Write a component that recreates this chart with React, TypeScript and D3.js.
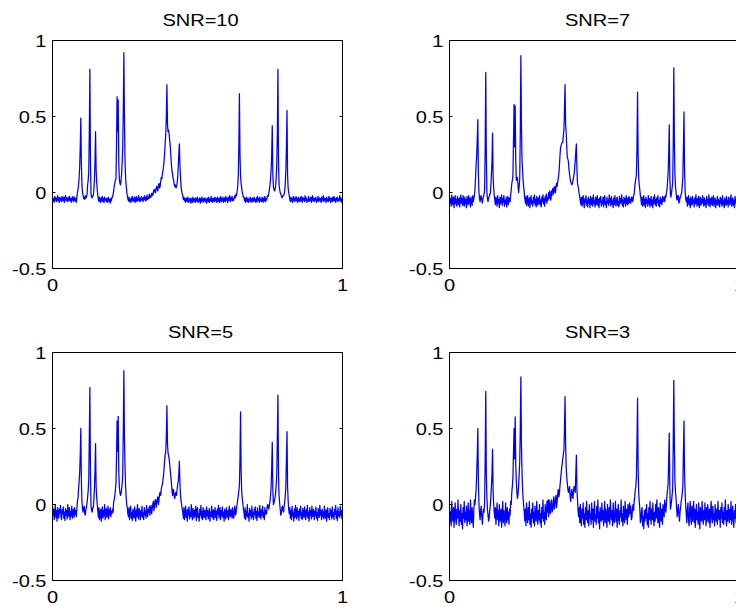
import React from 'react';
import * as d3 from 'd3';

const TITLES = ['SNR=10', 'SNR=7', 'SNR=5', 'SNR=3'];
const Y_TICKS = [-0.5, 0, 0.5, 1];
const Y_TICK_LABELS = ['-0.5', '0', '0.5', '1'];
const X_TICKS = [0, 1];
const X_TICK_LABELS = ['0', '1'];

// 513 samples on [0, 1] per panel
const SNR10 = [
  -0.03,-0.055,-0.04,-0.065,-0.025,-0.05,-0.035,-0.06,-0.045,-0.02,-0.055,-0.035,-0.065,-0.03,-0.05,-0.04,
  -0.06,-0.025,-0.045,-0.055,-0.03,-0.065,-0.04,-0.02,-0.05,-0.035,-0.06,-0.045,-0.03,-0.055,-0.025,-0.05,
  -0.04,-0.065,-0.035,-0.05,-0.025,-0.06,-0.045,-0.03,-0.055,-0.04,-0.065,-0.03,0.0,0.02,0.05,0.1,
  0.17,0.3,0.49,0.18,0.05,0.0,-0.02,-0.04,-0.03,-0.045,-0.02,-0.035,-0.03,-0.015,0.05,0.08,
  0.14,0.4,0.81,0.2,-0.01,-0.03,-0.035,-0.02,-0.02,0.02,0.08,0.2,0.40,0.15,0.07,0.02,
  -0.02,-0.045,-0.06,-0.03,-0.05,-0.065,-0.035,-0.055,-0.025,-0.06,-0.04,-0.065,-0.03,-0.05,-0.045,-0.06,
  -0.035,-0.065,-0.05,-0.03,-0.06,-0.045,-0.07,-0.04,-0.055,-0.03,-0.03,-0.01,0.01,0.04,0.06,0.08,
  0.09,0.3,0.63,0.4,0.61,0.2,0.09,0.06,0.05,0.08,0.12,0.2,0.30,0.55,0.92,0.5,
  0.21,0.1,0.05,0.01,-0.02,-0.04,-0.055,-0.03,-0.06,-0.045,-0.065,-0.035,-0.05,-0.025,-0.06,-0.04,
  -0.055,-0.03,-0.065,-0.045,-0.025,-0.06,-0.04,-0.05,-0.02,-0.055,-0.035,-0.06,-0.045,-0.025,-0.05,-0.035,
  -0.06,-0.03,-0.045,-0.02,-0.055,-0.035,-0.05,-0.015,-0.045,-0.03,-0.04,-0.01,-0.035,-0.02,-0.03,-0.005,
  -0.005,-0.02,0.0,0.015,0.02,0.0,0.0,0.03,0.04,0.02,0.01,0.05,0.06,0.03,0.04,0.07,
  0.10,0.09,0.12,0.14,0.17,0.21,0.26,0.33,0.39,0.5,0.71,0.45,0.40,0.41,0.38,0.34,
  0.30,0.24,0.18,0.14,0.12,0.09,0.08,0.05,0.04,0.05,0.03,0.04,0.06,0.1,0.17,0.25,
  0.32,0.18,0.10,0.04,0.01,-0.01,-0.02,-0.045,-0.03,-0.055,-0.04,-0.065,-0.035,-0.05,-0.06,-0.03,
  -0.065,-0.045,-0.055,-0.035,-0.07,-0.05,-0.04,-0.065,-0.03,-0.055,-0.06,-0.04,-0.065,-0.035,-0.05,-0.06,
  -0.03,-0.065,-0.045,-0.055,-0.035,-0.07,-0.04,-0.06,-0.03,-0.05,-0.065,-0.04,-0.055,-0.035,-0.06,-0.045,
  -0.07,-0.035,-0.05,-0.06,-0.03,-0.065,-0.045,-0.055,-0.025,-0.06,-0.04,-0.065,-0.035,-0.05,-0.06,-0.03,
  -0.055,-0.04,-0.065,-0.03,-0.05,-0.06,-0.035,-0.065,-0.045,-0.025,-0.06,-0.04,-0.055,-0.03,-0.065,-0.045,
  -0.035,-0.06,-0.025,-0.05,-0.04,-0.065,-0.03,-0.055,-0.045,-0.02,-0.06,-0.035,-0.05,-0.025,-0.055,-0.04,
  -0.05,-0.03,-0.02,-0.035,-0.01,-0.02,0.01,0.04,0.11,0.3,0.65,0.25,0.11,0.06,0.03,0.0,
  -0.01,-0.03,-0.03,-0.055,-0.04,-0.065,-0.03,-0.05,-0.06,-0.035,-0.065,-0.045,-0.055,-0.03,-0.06,-0.04,
  -0.065,-0.035,-0.05,-0.06,-0.03,-0.055,-0.045,-0.065,-0.035,-0.06,-0.025,-0.05,-0.04,-0.065,-0.03,-0.055,
  -0.045,-0.06,-0.03,-0.05,-0.065,-0.035,-0.055,-0.025,-0.06,-0.04,-0.05,-0.03,-0.02,-0.025,0.0,0.02,
  0.05,0.09,0.15,0.25,0.44,0.12,0.04,0.02,0.01,0.02,0.05,0.1,0.19,0.4,0.81,0.2,
  0.05,0.02,0.0,-0.01,-0.02,-0.035,-0.03,-0.02,-0.02,-0.01,0.01,0.06,0.15,0.3,0.54,0.12,
  0.03,0.0,-0.02,-0.045,-0.06,-0.03,-0.055,-0.04,-0.065,-0.025,-0.05,-0.035,-0.06,-0.045,-0.025,-0.055,
  -0.04,-0.065,-0.03,-0.05,-0.06,-0.035,-0.055,-0.025,-0.045,-0.065,-0.03,-0.05,-0.04,-0.06,-0.02,-0.05,
  -0.035,-0.065,-0.045,-0.055,-0.025,-0.06,-0.04,-0.05,-0.03,-0.065,-0.045,-0.02,-0.055,-0.035,-0.06,-0.04,
  -0.05,-0.03,-0.065,-0.045,-0.055,-0.025,-0.06,-0.035,-0.05,-0.04,-0.065,-0.03,-0.055,-0.045,-0.02,-0.06,
  -0.035,-0.05,-0.04,-0.065,-0.03,-0.055,-0.045,-0.06,-0.025,-0.05,-0.035,-0.065,-0.04,-0.055,-0.03,-0.06,
  -0.045,-0.025,-0.055,-0.04,-0.065,-0.035,-0.05,-0.03,-0.06,-0.045,-0.055,-0.02,-0.05,-0.035,-0.065,-0.04,
  -0.045,
];

const SNR7 = [
  -0.02,-0.07,-0.04,-0.09,-0.015,-0.06,-0.08,-0.03,-0.10,-0.05,-0.02,-0.075,-0.045,-0.09,-0.025,-0.065,
  -0.08,-0.035,-0.095,-0.05,-0.015,-0.07,-0.04,-0.085,-0.02,-0.06,-0.09,-0.03,-0.075,-0.045,-0.1,-0.025,
  -0.06,-0.08,-0.02,-0.07,-0.04,-0.095,-0.03,-0.065,-0.085,-0.02,-0.06,-0.04,-0.02,0.02,0.10,0.18,
  0.24,0.35,0.48,0.12,0.0,-0.04,-0.06,-0.03,-0.02,-0.05,-0.07,-0.04,-0.03,-0.01,0.02,0.3,
  0.79,0.25,0.0,-0.04,-0.06,-0.035,-0.03,-0.01,-0.01,0.04,0.12,0.2,0.39,0.1,0.03,-0.02,
  -0.05,-0.08,-0.03,-0.06,-0.09,-0.02,-0.07,-0.045,-0.1,-0.03,-0.075,-0.05,-0.015,-0.085,-0.04,-0.065,
  -0.02,-0.09,-0.05,-0.075,-0.03,-0.095,-0.06,-0.025,-0.08,-0.045,-0.035,-0.06,-0.02,0.02,0.06,0.08,
  0.11,0.35,0.58,0.3,0.57,0.2,0.08,0.09,0.10,0.04,0.0,0.04,0.09,0.4,0.90,0.45,
  0.22,0.14,0.08,0.03,0.0,-0.04,-0.07,-0.025,-0.085,-0.05,-0.02,-0.09,-0.06,-0.035,-0.1,-0.045,
  -0.02,-0.075,-0.055,-0.09,-0.03,-0.065,-0.015,-0.08,-0.045,-0.095,-0.025,-0.06,-0.085,-0.035,-0.07,-0.02,
  -0.08,-0.05,-0.095,-0.03,-0.06,-0.015,-0.075,-0.04,-0.09,-0.025,-0.055,-0.01,-0.07,-0.035,-0.05,0.0,
  -0.04,0.01,-0.03,-0.05,0.01,-0.02,0.02,0.03,-0.01,0.02,0.04,0.0,0.03,0.06,0.04,0.07,
  0.09,0.12,0.17,0.24,0.29,0.31,0.32,0.33,0.33,0.38,0.41,0.55,0.71,0.45,0.39,0.3,
  0.23,0.22,0.20,0.15,0.12,0.09,0.07,0.06,0.05,0.06,0.08,0.1,0.12,0.16,0.21,0.27,
  0.32,0.15,0.06,0.04,0.02,-0.01,-0.03,-0.06,-0.08,-0.03,-0.09,-0.05,-0.02,-0.075,-0.1,-0.04,
  -0.065,-0.02,-0.085,-0.05,-0.095,-0.03,-0.07,-0.045,-0.1,-0.025,-0.06,-0.08,-0.035,-0.09,-0.015,-0.07,
  -0.05,-0.095,-0.03,-0.08,-0.06,-0.02,-0.085,-0.045,-0.1,-0.035,-0.065,-0.025,-0.09,-0.055,-0.075,-0.03,
  -0.095,-0.045,-0.02,-0.08,-0.06,-0.1,-0.03,-0.07,-0.05,-0.085,-0.015,-0.065,-0.04,-0.09,-0.025,-0.075,
  -0.055,-0.1,-0.035,-0.08,-0.02,-0.07,-0.09,-0.045,-0.03,-0.085,-0.06,-0.095,-0.025,-0.075,-0.04,-0.065,
  -0.015,-0.085,-0.05,-0.095,-0.03,-0.07,-0.04,-0.09,-0.02,-0.06,-0.08,-0.035,-0.075,-0.025,-0.065,-0.045,
  -0.07,-0.03,-0.03,-0.06,-0.05,-0.02,-0.01,0.03,0.07,0.09,0.12,0.3,0.66,0.25,0.10,0.05,
  0.02,-0.02,-0.04,-0.08,-0.03,-0.09,-0.06,-0.02,-0.085,-0.045,-0.1,-0.03,-0.07,-0.05,-0.09,-0.02,
  -0.075,-0.04,-0.095,-0.06,-0.025,-0.085,-0.05,-0.1,-0.03,-0.07,-0.015,-0.08,-0.045,-0.09,-0.035,-0.065,
  -0.02,-0.085,-0.055,-0.095,-0.03,-0.07,-0.045,-0.08,-0.025,-0.06,-0.04,-0.03,-0.06,-0.02,-0.03,0.0,
  0.02,0.07,0.13,0.25,0.445,0.1,-0.01,-0.03,0.0,0.03,0.06,0.3,0.82,0.35,0.12,0.04,
  0.0,-0.04,-0.05,-0.02,-0.02,-0.07,-0.06,-0.03,-0.03,-0.01,0.0,0.05,0.10,0.3,0.53,0.15,
  0.01,-0.04,-0.06,-0.03,-0.09,-0.05,-0.02,-0.08,-0.045,-0.1,-0.03,-0.065,-0.085,-0.025,-0.07,-0.05,
  -0.095,-0.035,-0.075,-0.015,-0.06,-0.09,-0.04,-0.08,-0.025,-0.1,-0.055,-0.03,-0.085,-0.045,-0.07,-0.02,
  -0.065,-0.09,-0.035,-0.08,-0.05,-0.1,-0.025,-0.07,-0.045,-0.085,-0.015,-0.06,-0.095,-0.04,-0.075,-0.03,
  -0.085,-0.055,-0.02,-0.09,-0.065,-0.035,-0.1,-0.05,-0.075,-0.025,-0.085,-0.045,-0.06,-0.095,-0.03,-0.07,
  -0.04,-0.09,-0.02,-0.08,-0.055,-0.1,-0.035,-0.065,-0.085,-0.025,-0.075,-0.05,-0.095,-0.03,-0.06,-0.08,
  -0.045,-0.015,-0.09,-0.06,-0.035,-0.085,-0.05,-0.1,-0.025,-0.07,-0.04,-0.09,-0.03,-0.075,-0.055,-0.085,
  -0.04,
];

const SNR5 = [
  -0.01,-0.07,-0.03,-0.1,-0.05,0.0,-0.085,-0.04,-0.11,-0.02,-0.065,-0.09,-0.03,-0.055,-0.005,-0.08,
  -0.1,-0.035,-0.06,-0.015,-0.09,-0.05,-0.105,-0.025,-0.07,-0.04,-0.095,0.0,-0.06,-0.08,-0.02,-0.1,
  -0.045,-0.075,-0.01,-0.09,-0.055,-0.03,-0.085,-0.02,-0.065,-0.04,-0.08,-0.03,0.02,0.04,0.10,0.15,
  0.21,0.33,0.50,0.15,0.02,-0.03,-0.05,-0.02,-0.01,-0.06,-0.07,-0.03,-0.02,0.01,0.05,0.09,
  0.16,0.45,0.77,0.2,-0.01,-0.04,-0.05,-0.02,-0.02,0.03,0.10,0.22,0.40,0.12,0.05,0.0,
  -0.04,-0.085,-0.02,-0.1,-0.055,-0.03,-0.11,-0.06,-0.015,-0.09,-0.04,-0.075,0.0,-0.1,-0.05,-0.025,
  -0.085,-0.06,-0.01,-0.095,-0.035,-0.07,-0.02,-0.08,-0.045,-0.06,-0.03,-0.05,0.02,0.03,0.06,0.09,
  0.14,0.3,0.55,0.35,0.58,0.22,0.12,0.08,0.06,0.07,0.10,0.14,0.20,0.5,0.88,0.45,
  0.25,0.12,0.05,0.0,-0.02,-0.06,-0.08,-0.02,-0.1,-0.045,-0.01,-0.09,-0.055,-0.105,-0.03,-0.07,
  -0.09,-0.015,-0.06,-0.11,-0.035,-0.08,0.0,-0.065,-0.095,-0.025,-0.05,-0.1,-0.04,-0.075,-0.01,-0.085,
  -0.055,-0.1,-0.02,-0.07,-0.045,-0.09,-0.005,-0.06,-0.08,-0.03,-0.05,-0.01,-0.07,-0.035,-0.005,-0.06,
  -0.03,0.0,0.02,-0.04,-0.01,0.03,0.03,-0.02,0.01,0.04,0.05,0.0,0.03,0.07,0.08,0.06,
  0.10,0.12,0.13,0.16,0.19,0.24,0.29,0.33,0.35,0.45,0.65,0.4,0.34,0.32,0.30,0.26,
  0.22,0.18,0.14,0.09,0.06,0.10,0.09,0.05,0.04,0.07,0.08,0.06,0.10,0.13,0.15,0.2,
  0.285,0.14,0.06,0.02,0.0,-0.03,-0.05,-0.09,-0.02,-0.1,-0.06,-0.01,-0.085,-0.04,-0.11,-0.03,
  -0.07,-0.015,-0.095,-0.05,-0.08,0.0,-0.065,-0.1,-0.025,-0.055,-0.09,-0.035,-0.075,-0.01,-0.105,-0.045,
  -0.02,-0.085,-0.06,-0.11,-0.03,-0.07,-0.005,-0.09,-0.045,-0.1,-0.02,-0.065,-0.085,-0.035,-0.055,-0.1,
  -0.015,-0.075,-0.04,-0.095,-0.06,-0.025,-0.11,-0.05,-0.08,-0.01,-0.07,-0.09,-0.035,-0.1,-0.055,-0.02,
  -0.085,-0.045,-0.105,-0.03,-0.065,-0.005,-0.09,-0.06,-0.02,-0.1,-0.04,-0.075,-0.015,-0.085,-0.05,-0.11,
  -0.03,-0.07,-0.095,-0.02,-0.06,-0.085,-0.04,-0.1,-0.01,-0.065,-0.08,-0.03,-0.055,-0.09,-0.02,-0.07,
  -0.09,-0.04,-0.01,-0.07,-0.06,-0.02,0.0,0.03,0.06,0.09,0.13,0.3,0.61,0.22,0.09,0.04,
  0.01,-0.03,-0.05,-0.09,-0.02,-0.1,-0.045,-0.075,0.0,-0.085,-0.06,-0.11,-0.025,-0.07,-0.04,-0.095,
  -0.01,-0.08,-0.055,-0.1,-0.03,-0.065,-0.015,-0.09,-0.045,-0.105,-0.02,-0.075,-0.05,-0.085,-0.005,-0.06,
  -0.095,-0.035,-0.07,-0.01,-0.085,-0.05,-0.1,-0.02,-0.065,-0.04,-0.06,-0.01,0.0,-0.02,-0.03,0.0,
  0.02,0.06,0.12,0.24,0.41,0.1,0.0,0.01,0.03,0.05,0.08,0.13,0.21,0.45,0.72,0.2,
  0.06,0.01,-0.03,-0.07,-0.06,-0.02,-0.01,-0.04,-0.05,-0.01,0.02,0.06,0.12,0.3,0.48,0.12,
  0.03,-0.03,-0.06,-0.02,-0.09,-0.04,-0.1,-0.01,-0.075,-0.055,-0.11,-0.03,-0.085,-0.005,-0.065,-0.095,
  -0.02,-0.08,-0.045,-0.105,-0.03,-0.07,-0.01,-0.09,-0.055,-0.1,-0.025,-0.065,-0.085,-0.015,-0.06,-0.1,
  -0.035,-0.075,-0.005,-0.09,-0.05,-0.11,-0.02,-0.07,-0.04,-0.095,-0.01,-0.08,-0.06,-0.03,-0.1,-0.045,
  -0.075,-0.015,-0.09,-0.055,-0.105,-0.025,-0.065,-0.085,-0.005,-0.07,-0.04,-0.1,-0.03,-0.08,-0.05,-0.095,
  -0.01,-0.065,-0.09,-0.035,-0.11,-0.045,-0.02,-0.085,-0.06,-0.1,-0.025,-0.07,-0.04,-0.095,-0.015,-0.08,
  -0.055,-0.1,-0.03,-0.065,-0.005,-0.09,-0.045,-0.105,-0.02,-0.075,-0.05,-0.085,-0.01,-0.07,-0.04,-0.095,
  -0.03,
];

const SNR3 = [
  0.0,-0.12,-0.05,-0.14,0.02,-0.08,-0.11,-0.02,-0.15,-0.06,0.01,-0.1,-0.13,-0.03,-0.09,0.03,
  -0.07,-0.14,-0.04,-0.11,0.0,-0.13,-0.06,-0.16,-0.02,-0.09,0.02,-0.12,-0.05,-0.1,-0.01,-0.14,
  -0.08,0.01,-0.11,-0.04,-0.13,0.03,-0.07,-0.12,-0.02,-0.09,-0.15,-0.03,0.03,0.0,0.05,0.1,
  0.20,0.32,0.50,0.15,0.0,-0.06,-0.10,-0.04,-0.01,-0.08,-0.13,-0.07,-0.03,-0.05,0.02,0.3,
  0.744,0.2,0.05,-0.03,-0.07,-0.11,-0.09,-0.04,-0.01,0.05,0.12,0.2,0.364,0.08,0.0,-0.05,
  -0.09,-0.02,-0.13,-0.06,0.01,-0.1,-0.04,-0.14,0.0,-0.08,-0.11,-0.03,-0.15,-0.06,0.02,-0.12,
  -0.04,-0.09,-0.14,0.01,-0.07,-0.12,-0.02,-0.1,-0.05,-0.13,-0.03,-0.07,0.02,0.0,0.08,0.12,
  0.18,0.35,0.50,0.3,0.576,0.25,0.15,0.08,0.04,0.07,0.12,0.2,0.28,0.5,0.84,0.4,
  0.22,0.1,0.04,-0.01,-0.05,-0.11,-0.03,-0.14,0.01,-0.08,-0.12,-0.02,-0.1,0.02,-0.13,-0.06,
  -0.15,-0.03,-0.09,0.01,-0.12,-0.05,-0.14,-0.01,-0.08,-0.11,0.02,-0.07,-0.13,-0.04,-0.1,0.0,
  -0.12,-0.06,-0.15,-0.02,-0.09,0.03,-0.11,-0.05,-0.13,0.0,-0.07,-0.1,0.02,-0.05,0.03,-0.08,
  0.03,-0.02,-0.06,0.01,0.03,-0.05,-0.04,0.02,0.05,-0.03,-0.01,0.04,0.06,-0.02,0.02,0.07,
  0.10,0.05,0.07,0.12,0.16,0.2,0.24,0.27,0.30,0.33,0.36,0.5,0.71,0.4,0.24,0.18,
  0.14,0.1,0.08,0.1,0.12,0.05,0.02,0.07,0.10,0.06,0.04,0.09,0.12,0.1,0.08,0.2,
  0.325,0.1,0.03,-0.04,-0.08,-0.02,-0.12,0.0,-0.1,-0.14,-0.03,-0.09,0.01,-0.13,-0.06,-0.15,
  -0.02,-0.1,0.02,-0.08,-0.12,-0.04,-0.14,0.0,-0.09,-0.06,-0.13,0.01,-0.1,-0.03,-0.15,-0.05,
  0.02,-0.11,-0.07,-0.13,-0.01,-0.09,0.03,-0.12,-0.05,-0.16,-0.02,-0.08,-0.11,0.01,-0.1,-0.04,
  -0.14,-0.06,0.02,-0.12,-0.03,-0.09,-0.15,0.0,-0.08,-0.11,-0.02,-0.13,0.03,-0.07,-0.1,-0.04,
  -0.14,0.01,-0.09,-0.12,-0.05,0.02,-0.11,-0.03,-0.15,-0.07,0.0,-0.1,-0.13,-0.04,-0.08,0.03,
  -0.11,-0.06,-0.14,-0.01,-0.09,-0.12,0.02,-0.07,-0.1,-0.03,-0.13,0.0,-0.08,-0.05,0.01,-0.06,
  -0.01,-0.1,-0.09,-0.03,0.0,-0.04,0.02,0.05,0.10,0.12,0.18,0.4,0.70,0.25,0.08,0.02,
  -0.03,-0.12,-0.10,-0.04,-0.02,-0.14,-0.08,-0.16,-0.04,-0.11,-0.03,-0.09,0.0,-0.13,-0.06,-0.15,
  -0.02,-0.1,0.02,-0.07,-0.13,-0.03,-0.1,0.01,-0.08,-0.14,-0.05,-0.11,0.0,-0.09,0.03,-0.06,
  -0.12,-0.02,-0.1,-0.15,0.01,-0.07,-0.11,-0.03,-0.13,0.0,-0.05,-0.08,0.03,-0.02,-0.05,0.01,
  0.06,0.1,0.14,0.3,0.47,0.12,-0.03,-0.01,0.02,0.06,0.10,0.4,0.816,0.4,0.16,0.08,
  0.04,-0.03,-0.08,-0.04,0.0,-0.06,-0.11,-0.05,-0.02,0.02,0.04,0.08,0.12,0.35,0.55,0.2,
  0.08,-0.01,-0.06,-0.12,-0.03,0.01,-0.1,-0.14,-0.04,0.02,-0.09,-0.13,-0.01,-0.11,-0.06,0.02,
  -0.12,-0.03,-0.15,-0.07,0.0,-0.1,-0.05,-0.13,0.01,-0.09,-0.16,-0.02,-0.08,-0.11,0.02,-0.06,
  -0.13,-0.04,-0.1,0.01,-0.08,-0.14,-0.02,-0.11,0.0,-0.07,-0.12,-0.03,-0.15,-0.05,0.02,-0.09,
  -0.12,-0.01,-0.1,-0.06,-0.14,0.0,-0.08,-0.11,-0.03,-0.13,0.02,-0.07,-0.1,-0.04,-0.15,-0.02,
  -0.09,0.01,-0.12,-0.05,-0.13,-0.02,-0.1,0.03,-0.08,-0.14,-0.04,-0.11,0.0,-0.06,-0.12,-0.03,
  -0.1,0.02,-0.13,-0.07,-0.01,-0.11,-0.15,-0.04,-0.09,0.0,-0.12,-0.06,-0.02,-0.1,-0.14,-0.05,
  -0.08,
];

const SERIES = [SNR10, SNR7, SNR5, SNR3];

const FONT = 'Arial, "Liberation Sans", Helvetica, sans-serif';
const FS = 16;
const SX = 1.25;

function Label({ x, y, anchor, children }) {
  return (
    <text
      transform={`translate(${x},${y}) scale(${SX},1)`}
      textAnchor={anchor}
      fontFamily={FONT}
      fontSize={FS}
      fill="#000"
    >
      {children}
    </text>
  );
}

function Panel({ data, title, left, top, width, height }) {
  const x = d3.scaleLinear().domain([0, 1]).range([left, left + width]);
  const y = d3.scaleLinear().domain([-0.5, 1]).range([top + height, top]);
  const n = data.length - 1;
  const line = d3
    .line<number>()
    .x((_, i) => x(i / n))
    .y((d) => y(d));
  const tl = 3;
  return (
    <g>
      <path d={line(data) || ''} fill="none" stroke="#0000ff" strokeWidth={1.25} strokeLinejoin="round" />
      <rect x={left} y={top} width={width} height={height} fill="none" stroke="#000" strokeWidth={1} />
      {Y_TICKS.map((t, k) => (
        <g key={'y' + k}>
          <line x1={left} x2={left + tl} y1={y(t)} y2={y(t)} stroke="#000" />
          <line x1={left + width - tl} x2={left + width} y1={y(t)} y2={y(t)} stroke="#000" />
          <Label x={left - 6} y={y(t) + 6} anchor="end">
            {Y_TICK_LABELS[k]}
          </Label>
        </g>
      ))}
      {X_TICKS.map((t, k) => (
        <g key={'x' + k}>
          <line x1={x(t)} x2={x(t)} y1={top + height} y2={top + height - tl} stroke="#000" />
          <line x1={x(t)} x2={x(t)} y1={top} y2={top + tl} stroke="#000" />
          <Label x={x(t)} y={top + height + 22} anchor="middle">
            {X_TICK_LABELS[k]}
          </Label>
        </g>
      ))}
      <Label x={left + width / 2 + 3} y={top - 15} anchor="middle">
        {title}
      </Label>
    </g>
  );
}

export default function App() {
  const lefts = [52.5, 449.5];
  const tops = [40.5, 352.5];
  const width = 290;
  const height = 228;
  return (
    <svg
      width={736}
      height={607}
      style={{ position: 'absolute', left: 0, top: 0, background: '#fff' }}
    >
      <rect x={0} y={0} width={736} height={607} fill="#fff" />
      {SERIES.map((s, k) => (
        <Panel
          key={k}
          data={s}
          title={TITLES[k]}
          left={lefts[k % 2]}
          top={tops[Math.floor(k / 2)]}
          width={width}
          height={height}
        />
      ))}
    </svg>
  );
}
